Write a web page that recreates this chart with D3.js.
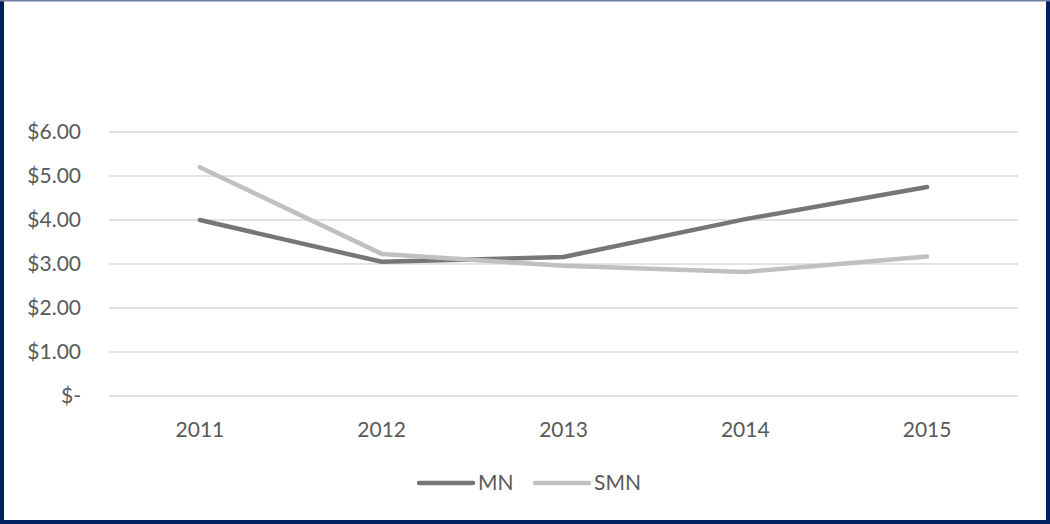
<!DOCTYPE html>
<html lang="en">
<head>
  <meta charset="utf-8">
  <title></title>
  <style type="text/css">
    body { margin: 0; background: #fff; }
    svg  { display: block; }
    text { font-family: Lato, "Open Sans", sans-serif; fill: #595959; }
  </style>
</head>
<body>
<script src="https://cdn.jsdelivr.net/npm/d3@7"></script>
<script>
  //----------------------------------------------------------------------------
  var years = ["2011", "2012", "2013", "2014", "2015"];
  var mnValues = [4.00, 3.05, 3.16, 4.02, 4.75];
  var smnValues = [5.20, 3.23, 2.96, 2.82, 3.17];
  var yTicks = [0, 1, 2, 3, 4, 5, 6];
  var seriesNames = ["MN", "SMN"];
  var seriesColors = ["#767676", "#c0c0c0"];

  var width = 1050, height = 524;

  var svg = d3.select("body").append("svg")
      .attr("width", width)
      .attr("height", height);

  // frame: thick navy on left, right and bottom, thin line on top
  var navy = "#002060";
  svg.append("rect").attr("x", 0).attr("y", 0).attr("width", 4).attr("height", height).attr("fill", navy);
  svg.append("rect").attr("x", width - 4).attr("y", 0).attr("width", 4).attr("height", height).attr("fill", navy);
  svg.append("rect").attr("x", 0).attr("y", height - 4).attr("width", width).attr("height", 4).attr("fill", navy);
  svg.append("rect").attr("x", 0).attr("y", 0).attr("width", width).attr("height", 1.5).attr("fill", "#6f7fa8");

  var x = d3.scaleBand().domain(years).range([109, 1018]);
  var y = d3.scaleLinear().domain([0, 6]).range([396, 132]);

  // gridlines
  svg.append("g").selectAll("line")
    .data(yTicks)
    .enter().append("line")
      .attr("x1", 109).attr("x2", 1018)
      .attr("y1", function(d) { return y(d); })
      .attr("y2", function(d) { return y(d); })
      .attr("stroke", "#d9d9d9")
      .attr("stroke-width", 1.3);

  // y labels
  svg.append("g").selectAll("text")
    .data(yTicks)
    .enter().append("text")
      .attr("x", 81)
      .attr("y", function(d) { return y(d); })
      .attr("dy", "0.35em")
      .attr("text-anchor", "end")
      .style("font-size", "21px")
      .text(function(d) { return d === 0 ? "$-" : "$" + d.toFixed(2); });

  // x labels
  svg.append("g").selectAll("text")
    .data(years)
    .enter().append("text")
      .attr("x", function(d) { return x(d) + x.bandwidth() / 2; })
      .attr("y", 430)
      .attr("dy", "0.35em")
      .attr("text-anchor", "middle")
      .style("font-size", "21px")
      .text(function(d) { return d; });

  // lines
  var line = d3.line()
      .x(function(d, i) { return x(years[i]) + x.bandwidth() / 2; })
      .y(function(d) { return y(d); });

  [mnValues, smnValues].forEach(function(vals, k) {
    svg.append("path")
        .datum(vals)
        .attr("d", line)
        .attr("fill", "none")
        .attr("stroke", seriesColors[k])
        .attr("stroke-width", 4.5)
        .attr("stroke-linecap", "round")
        .attr("stroke-linejoin", "round");
  });

  // legend
  var legendX = [419, 535];
  var legend = svg.append("g").selectAll("g")
    .data(seriesNames)
    .enter().append("g")
      .attr("transform", function(d, i) { return "translate(" + legendX[i] + ",483)"; });
  legend.append("line")
      .attr("x1", 0).attr("x2", 54)
      .attr("stroke", function(d, i) { return seriesColors[i]; })
      .attr("stroke-width", 4.5)
      .attr("stroke-linecap", "round");
  legend.append("text")
      .attr("x", 59)
      .attr("dy", "0.35em")
      .style("font-size", "21px")
      .text(function(d) { return d; });
  //----------------------------------------------------------------------------
</script>
</body>
</html>
